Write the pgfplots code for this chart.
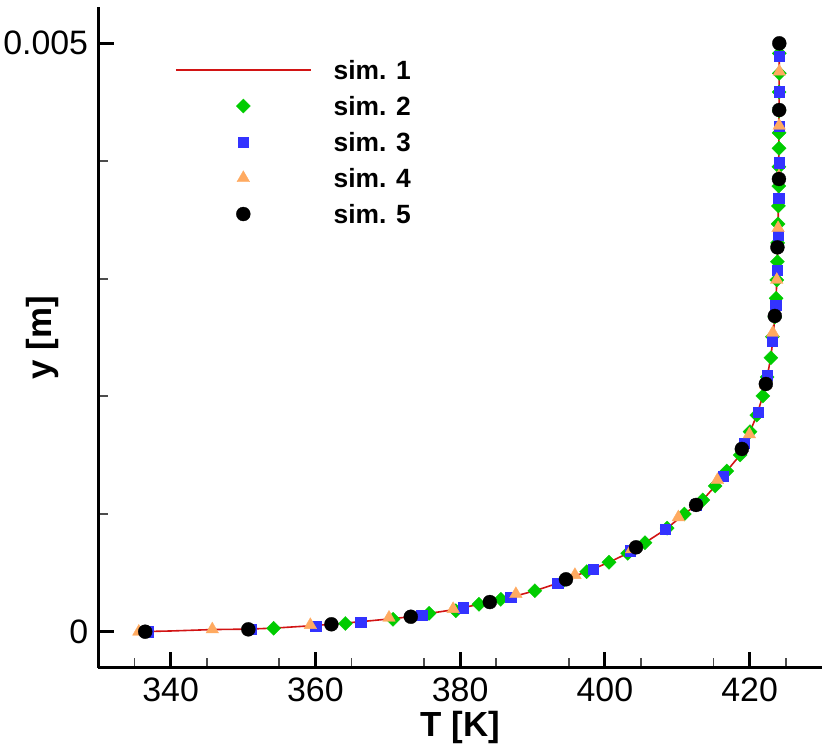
\documentclass[border=0pt]{standalone}
\usepackage{pgfplots}
\pgfplotsset{compat=1.18}
\usepackage{fontspec}
\setmainfont{Liberation Sans}
\definecolor{cline}{RGB}{210,20,20}
\definecolor{cgreen}{RGB}{0,204,0}
\definecolor{cblue}{RGB}{51,51,255}
\definecolor{corange}{RGB}{255,170,96}
\pgfplotsset{
  lgline/.style={legend image code/.code={\draw[##1] (0bp,0bp) -- (135bp,0bp);}},
  lgmark/.style={legend image code/.code={\path (0bp,0bp) (135bp,0bp); \draw[##1] plot coordinates {(67.5bp,0bp)};}},
}
\begin{document}
\begin{tikzpicture}
\useasboundingbox (-98.3bp,-85.3bp) rectangle (731.7bp,667.7bp);
\begin{axis}[
  at={(0,0)}, anchor=south west,
  scale only axis, width=723.7bp, height=660.4bp,
  xmin=330, xmax=430, ymin=-0.000306, ymax=0.005306,
  axis x line=bottom, axis y line=left,
  axis line style={-, line width=3bp},
  tick align=inside,
  major tick length=16bp, minor tick length=10bp,
  major tick style={line width=3bp, black},
  minor tick style={line width=1.8bp, black!70},
  xtick={340,360,380,400,420},
  minor xtick={335,345,355,365,375,385,395,405,415,425},
  ytick={0,0.005}, yticklabels={0,0.005},
  minor ytick={0.001,0.002,0.003,0.004},
  scaled y ticks=false,
  /pgf/number format/assume math mode=true,
  tick label style={font=\fontsize{34}{40}\selectfont},
  xticklabel style={inner sep=0pt, anchor=north, yshift=-9.5bp},
  yticklabel style={inner sep=0pt, anchor=east, xshift=-10bp},
  xlabel={T [K]}, ylabel={y [m]},
  xlabel style={at={(axis description cs:0.5,0)}, anchor=base, yshift=-69bp, inner sep=0pt, font=\bfseries\fontsize{35}{40}\selectfont},
  ylabel style={at={(axis description cs:-0.0644,0.5)}, anchor=base, inner sep=0pt, font=\bfseries\fontsize{35}{40}\selectfont},
  legend style={at={(axis description cs:0.106,0.9194)}, anchor=north west,
    draw=none, fill=none, inner sep=0pt, outer sep=0pt,
    row sep=17bp, column sep=22bp,
    font=\bfseries\fontsize{26.5}{30}\selectfont,
    nodes={inner sep=0pt, text height=19bp, text depth=0bp}},
  legend cell align=left,
  clip=false,
]
\addplot[color=cline, line width=1.6bp, mark=none, lgline] table {
335.5 0
340 0.000006
345.75 0.000018
350.7 0.000022
354.2 0.00003
359.3 0.00005
362.2 0.000063
366.25 0.000085
370.5 0.00011
373.2 0.000127
375.7 0.000155
379.2 0.000188
382.6 0.000233
384.1 0.000252
386.97 0.000292
390.33 0.000348
393.47 0.000411
394.62 0.000445
397.48 0.00051
400.57 0.00059
403.15 0.000666
405.54 0.000756
408.4 0.00087
410.98 0.001
413.52 0.001119
415.23 0.001238
416.85 0.001366
418.69 0.001502
420.06 0.0017
420.99 0.00184
421.82 0.002003
422.46 0.002181
422.93 0.002328
423.2 0.00248
423.48 0.002683
423.66 0.002833
423.80 0.003074
423.88 0.00327
423.95 0.0035
424.0 0.0038
424.05 0.0042
424.08 0.0046
424.1 0.005
};
\addlegendentry{sim. 1}
\addplot[only marks, mark=square*, mark size=5bp,
  mark options={rotate=45, fill=cgreen, draw=cgreen, line width=0.3bp}, lgmark] table {
354.23 0.000029
364.14 0.00007
370.73 0.000105
375.71 0.000156
379.40 0.000178
382.6 0.000233
385.62 0.000275
390.33 0.000348
394.2 0.00043
397.48 0.00051
400.57 0.00059
403.15 0.000666
405.54 0.000756
408.6 0.00088
410.98 0.001
413.52 0.001119
415.23 0.001238
416.85 0.001366
418.69 0.001502
420.06 0.0017
420.99 0.001841
421.82 0.002003
422.42 0.002164
422.93 0.002328
423.15 0.002507
423.47 0.002674
423.66 0.002833
423.75 0.002989
423.84 0.003144
423.87 0.003304
423.93 0.003465
423.98 0.003618
424.03 0.003787
424.05 0.003951
424.06 0.004108
424.07 0.004239
424.08 0.004425
424.08 0.004586
424.1 0.004745
424.1 0.004915
};
\addlegendentry{sim. 2}
\addplot[only marks, mark=square*, mark size=5.2bp,
  mark options={fill=cblue, draw=cblue, line width=0.3bp}, lgmark] table {
336.9 0
351.14 0.00002
360.04 0.000048
366.26 0.000082
374.66 0.000142
380.41 0.000204
386.97 0.000292
393.47 0.000411
398.40 0.00053
403.47 0.000688
408.36 0.00087
412.6 0.00108
416.38 0.001323
419.28 0.0016
421.21 0.001864
422.46 0.002181
423.07 0.002473
423.57 0.002776
423.80 0.003074
423.93 0.003371
423.99 0.003683
424.05 0.003985
424.08 0.004297
424.08 0.004589
424.1 0.004892
};
\addlegendentry{sim. 3}
\addplot[only marks, mark=triangle*, mark size=7.3bp,
  mark options={fill=corange, draw=corange, line width=0.3bp}, lgmark] table {
335.6 0
345.75 0.00002
359.3 0.000057
370.17 0.000119
379.03 0.000193
387.70 0.00032
395.86 0.000482
403.7 0.0007
410.15 0.000972
415.55 0.001289
419.97 0.001677
422.2 0.0021
423.2 0.00254
423.75 0.00299
423.93 0.00343
424.05 0.00387
424.08 0.0043
424.1 0.00476
};
\addlegendentry{sim. 4}
\addplot[only marks, mark=*, mark size=7bp,
  mark options={fill=black, draw=black, line width=0.3bp}, lgmark] table {
336.48 0
350.73 0.00002
362.21 0.000063
373.18 0.000127
384.10 0.000252
394.62 0.000445
404.30 0.000717
412.60 0.001077
418.92 0.001553
422.24 0.002105
423.48 0.002683
423.84 0.003266
424.05 0.003847
424.08 0.004433
424.1 0.005
};
\addlegendentry{sim. 5}
\end{axis}
\end{tikzpicture}
\end{document}
